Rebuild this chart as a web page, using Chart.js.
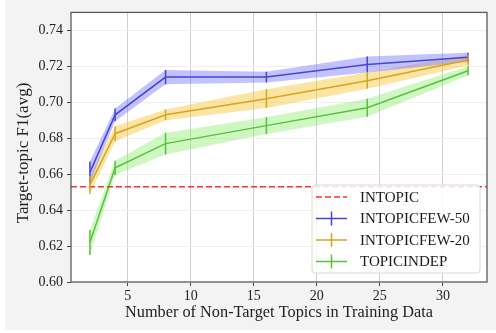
<!DOCTYPE html>
<html>
<head>
<meta charset="utf-8">
<script src="https://cdn.jsdelivr.net/npm/chart.js@4.4.0/dist/chart.umd.min.js"></script>
<style>
  html, body { margin: 0; padding: 0; background: #ffffff; }
  #wrap { width: 496px; height: 333px; }
</style>
</head>
<body>
<div id="wrap"><canvas id="chart" width="496" height="333"></canvas></div>
<script>
// x positions: number of non-target topics
const topicCounts = [2, 4, 8, 16, 24, 32];

// mean F1 and +/- spread per series
const few50Mean = [0.661, 0.693, 0.714, 0.714, 0.721, 0.725];
const few50Err  = [0.006, 0.0035, 0.004, 0.003, 0.0045, 0.0025];

const few20Mean = [0.654, 0.6825, 0.693, 0.702, 0.712, 0.7235];
const few20Err  = [0.005, 0.0042, 0.003, 0.0052, 0.0045, 0.003];

const indepMean = [0.622, 0.6635, 0.677, 0.687, 0.697, 0.7175];
const indepErr  = [0.007, 0.004, 0.006, 0.0047, 0.005, 0.0025];

const intopicF1 = 0.653;

const xTickValues = [5, 10, 15, 20, 25, 30];
const yTickValues = [0.60, 0.62, 0.64, 0.66, 0.68, 0.70, 0.72, 0.74];
const xMin = 0.5, xMax = 33.5;
const yMin = 0.60, yMax = 0.75;

const seriesNames = ['INTOPICFEW-50', 'INTOPICFEW-20', 'TOPICINDEP'];
const lineColors = ['#4646d6', '#d6a520', '#55c23c'];
const bandColors = ['rgba(110,110,255,0.42)', 'rgba(248,196,50,0.45)', 'rgba(135,235,100,0.40)'];
const redColor = '#ff3030';

const FONT = '"Liberation Serif", "DejaVu Serif", serif';

const means = [few50Mean, few20Mean, indepMean];
const errs = [few50Err, few20Err, indepErr];

function pts(arr) {
    return topicCounts.map((x, i) => ({ x: x, y: arr[i] }));
}

const datasets = [];
// bands first, lines later
means.forEach((m, s) => {
    const upper = m.map((v, i) => v + errs[s][i]);
    const lower = m.map((v, i) => v - errs[s][i]);
    datasets.push({
        data: pts(upper), borderWidth: 0, pointRadius: 0, tension: 0,
        backgroundColor: bandColors[s], fill: '+1', order: 10
    });
    datasets.push({
        data: pts(lower), borderWidth: 0, pointRadius: 0, tension: 0,
        backgroundColor: 'rgba(0,0,0,0)', fill: false, order: 10
    });
});
means.forEach((m, s) => {
    datasets.push({
        label: seriesNames[s], data: pts(m), borderColor: lineColors[s],
        borderWidth: 1.5, pointRadius: 0, tension: 0, fill: false, order: 3 - s,
        errs: errs[s]
    });
});
datasets.push({
    label: 'INTOPIC', data: [{ x: xMin, y: intopicF1 }, { x: xMax, y: intopicF1 }],
    borderColor: redColor, borderWidth: 1.5, borderDash: [6, 3], pointRadius: 0, fill: false, order: 0
});

const backgroundPlugin = {
    id: 'bg',
    beforeDraw(chart) {
        const ctx = chart.ctx;
        ctx.save();
        ctx.fillStyle = '#ffffff';
        ctx.fillRect(0, 0, chart.width, chart.height);
        ctx.fillStyle = '#f3f3f3';
        ctx.fillRect(5, 0, chart.width - 5, chart.height - 3);
        const a = chart.chartArea;
        ctx.fillStyle = '#ffffff';
        ctx.fillRect(a.left, a.top, a.right - a.left, a.bottom - a.top);
        ctx.restore();
    }
};

const errorBarPlugin = {
    id: 'errbars',
    afterDatasetsDraw(chart) {
        const ctx = chart.ctx;
        const xs = chart.scales.x, ys = chart.scales.y;
        ctx.save();
        chart.data.datasets.forEach(ds => {
            if (!ds.errs) return;
            ctx.strokeStyle = ds.borderColor;
            ctx.lineWidth = 1.5;
            ds.data.forEach((p, i) => {
                const px = xs.getPixelForValue(p.x);
                ctx.beginPath();
                ctx.moveTo(px, ys.getPixelForValue(p.y - ds.errs[i]));
                ctx.lineTo(px, ys.getPixelForValue(p.y + ds.errs[i]));
                ctx.stroke();
            });
        });
        ctx.restore();
    }
};

const framePlugin = {
    id: 'frame',
    afterDraw(chart) {
        const ctx = chart.ctx;
        const a = chart.chartArea;
        ctx.save();
        ctx.strokeStyle = '#5a5a5a';
        ctx.lineWidth = 1.3;
        ctx.strokeRect(a.left, a.top, a.right - a.left, a.bottom - a.top);

        // axis titles
        ctx.fillStyle = '#222';
        ctx.font = '16.3px ' + FONT;
        ctx.textAlign = 'center';
        ctx.textBaseline = 'middle';
        ctx.fillText('Number of Non-Target Topics in Training Data', (a.left + a.right) / 2, 313);
        ctx.save();
        ctx.translate(24, 153);
        ctx.rotate(-Math.PI / 2);
        ctx.font = '17px ' + FONT;
        ctx.fillText('Target-topic F1(avg)', 0, 0);
        ctx.restore();

        // legend
        const lx = a.right - 175, ly = a.bottom - 97, lw = 168, lh = 88;
        ctx.fillStyle = 'rgba(255,255,255,0.85)';
        ctx.strokeStyle = '#d8d8d8';
        ctx.lineWidth = 1;
        ctx.beginPath();
        ctx.roundRect(lx, ly, lw, lh, 3);
        ctx.fill();
        ctx.stroke();

        const entries = [{ name: 'INTOPIC', color: redColor, dash: true }].concat(
            seriesNames.map((n, s) => ({ name: n, color: lineColors[s], dash: false })));
        ctx.font = '15px ' + FONT;
        ctx.textAlign = 'left';
        entries.forEach((e, k) => {
            const cy = ly + 12 + k * 21.5;
            ctx.strokeStyle = e.color;
            ctx.lineWidth = 1.5;
            ctx.setLineDash(e.dash ? [6, 3] : []);
            ctx.beginPath();
            ctx.moveTo(lx + 4, cy);
            ctx.lineTo(lx + 35, cy);
            ctx.stroke();
            ctx.setLineDash([]);
            if (!e.dash) {
                ctx.beginPath();
                ctx.moveTo(lx + 19.5, cy - 7);
                ctx.lineTo(lx + 19.5, cy + 7);
                ctx.stroke();
            }
            ctx.fillStyle = '#1a1a1a';
            ctx.fillText(e.name, lx + 48, cy + 1);
        });
        ctx.restore();
    }
};

new Chart(document.getElementById('chart'), {
    type: 'line',
    data: { datasets: datasets },
    plugins: [backgroundPlugin, errorBarPlugin, framePlugin],
    options: {
        responsive: false,
        animation: false,
        layout: { padding: { top: 5, right: 9, left: 0, bottom: 0 } },
        plugins: { legend: { display: false }, tooltip: { enabled: false } },
        scales: {
            x: {
                type: 'linear', min: xMin, max: xMax,
                afterBuildTicks: (scale) => { scale.ticks = xTickValues.map(v => ({ value: v })); },
                afterFit: (scale) => { scale.height = 51; },
                grid: { color: '#cfcfcf', lineWidth: 1, tickLength: 4, tickColor: '#444' },
                border: { display: false },
                ticks: { color: '#222', font: { family: FONT, size: 14 }, padding: 2, maxRotation: 0 }
            },
            y: {
                min: yMin, max: yMax,
                afterBuildTicks: (scale) => { scale.ticks = yTickValues.map(v => ({ value: v })); },
                afterFit: (scale) => { scale.width = 71; },
                grid: { color: '#efefef', lineWidth: 1, tickLength: 4, tickColor: '#444' },
                border: { display: false },
                ticks: { color: '#222', font: { family: FONT, size: 14 }, padding: 4,
                         callback: (v) => v.toFixed(2) }
            }
        }
    }
});
</script>
</body>
</html>
